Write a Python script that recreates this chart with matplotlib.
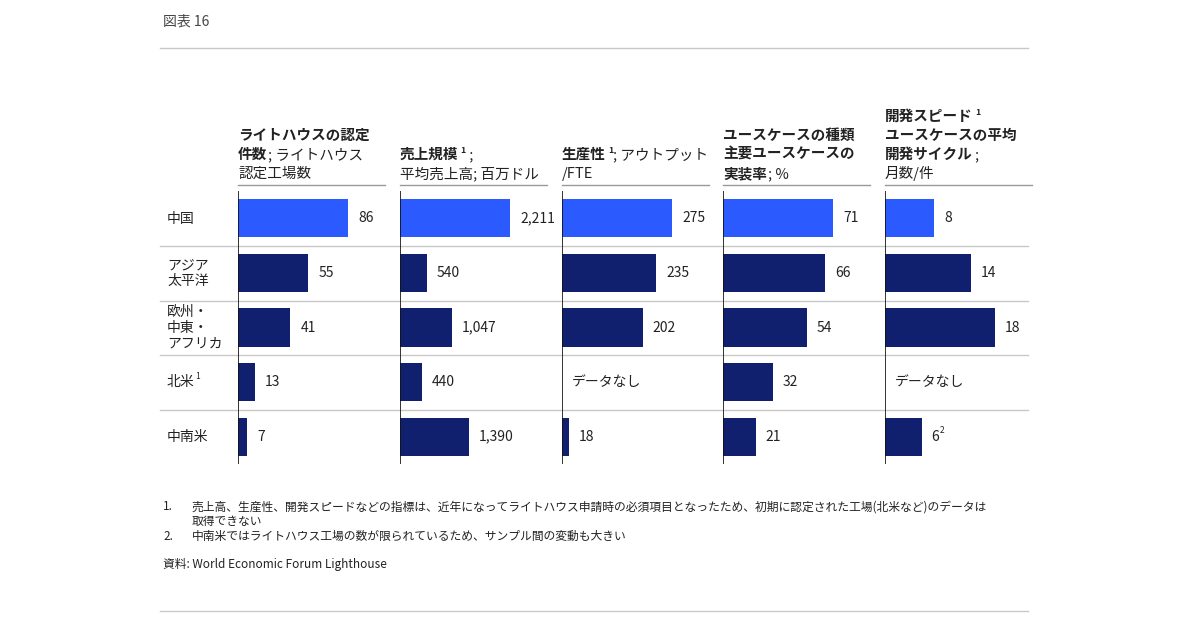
import matplotlib.pyplot as plt

plt.rcParams['font.family'] = ['Noto Sans CJK JP', 'DejaVu Sans']

regions = ["中国", "アジア\n太平洋", "欧州・\n中東・\nアフリカ", "北米", "中南米"]
region_sup = ["", "", "", "1", ""]

panels = [
    {"values": [86, 55, 41, 13, 7], "labels": ["86", "55", "41", "13", "7"], "max": 86,
     "head": [[("ライトハウスの認定", True)], [("件数", True), ("; ライトハウス", False)], [("認定工場数", False)]]},
    {"values": [2211, 540, 1047, 440, 1390], "labels": ["2,211", "540", "1,047", "440", "1,390"], "max": 2211,
     "head": [[("売上規模", True), ("^1", True), (" ;", False)], [("平均売上高; 百万ドル", False)]]},
    {"values": [275, 235, 202, None, 18], "labels": ["275", "235", "202", None, "18"], "max": 275,
     "head": [[("生産性", True), ("^1", True), ("; アウトプット", False)], [("/FTE", False)]]},
    {"values": [71, 66, 54, 32, 21], "labels": ["71", "66", "54", "32", "21"], "max": 71,
     "head": [[("ユースケースの種類", True)], [("主要ユースケースの", True)], [("実装率", True), ("; %", False)]]},
    {"values": [8, 14, 18, None, 6], "labels": ["8", "14", "18", None, "6"], "max": 18,
     "head": [[("開発スピード", True), ("^1", True)], [("ユースケースの平均", True)],
              [("開発サイクル", True), (";", False)], [("月数/件", False)]]},
]
panel_x = [238, 400, 562, 723, 885]

W, H = 1200, 630
fig = plt.figure(figsize=(12, 6.3), dpi=100)
bg = fig.add_axes([0, 0, 1, 1])
bg.set_xlim(0, W)
bg.set_ylim(H, 0)
bg.axis('off')

gray = '#c8c8c8'
txt = '#222222'
navy = '#101f6e'
blue = '#2b5bff'

def pieces(x, y, parts, size):
    # draws text pieces one after another on one line
    r = fig.canvas.get_renderer()
    for s, bold in parts:
        if s.startswith("^"):
            t = bg.text(x + 1, y - size * 0.55, s[1:], fontsize=size * 0.6, color=txt,
                        fontweight='bold' if bold else 'normal', va='baseline')
        else:
            t = bg.text(x, y, s, fontsize=size, color=txt,
                        fontweight='bold' if bold else 'normal', va='baseline')
        bb = t.get_window_extent(renderer=r)
        x += bb.width + 1

bg.text(163, 22, "図表 16", fontsize=10, color='#444444', va='center')
for yy in (48, 611):
    bg.plot([160, 1028], [yy, yy], color=gray, lw=1)

# row separators
for yy in [246, 301, 355, 410]:
    bg.plot([160, 1028], [yy, yy], color=gray, lw=1)

row_c = [218.5 + i * 54.6 for i in range(5)]
for i, name in enumerate(regions):
    t = bg.text(167, row_c[i], name, fontsize=10, color=txt, va='center', linespacing=1.15)
    if region_sup[i]:
        bg.text(195, row_c[i] - 6, region_sup[i], fontsize=6, color=txt, va='center')

for p, x0 in zip(panels, panel_x):
    # header
    lines = p["head"]
    for k, line in enumerate(lines):
        y = 178 - (len(lines) - 1 - k) * 19
        bold_line = all(b for _, b in line)
        pieces(x0, y, line, 10.5)
    bg.plot([x0, x0 + 147], [185, 185], color='#999999', lw=1)

    ax = fig.add_axes([x0 / W, 1 - 464 / H, 147 / W, 273 / H])
    ax.set_xlim(0, p["max"] * 147 / 110)
    ax.set_ylim(5, 0)
    ax.axis('off')
    ax.axvline(0, color='#111111', lw=1.2)
    for i, v in enumerate(p["values"]):
        if v is None:
            ax.text(p["max"] * 10 / 110, i + 0.5, "データなし", fontsize=10, color=txt, va='center')
            continue
        ax.barh(i + 0.5, v, height=0.7, color=blue if i == 0 else navy)
        ax.text(v + p["max"] * 10 / 110, i + 0.5, p["labels"][i], fontsize=10, color=txt, va='center')
    if x0 == 885:
        ax.text(6 + 18 * 18 / 110, 4.5 - 0.12, "2", fontsize=6, color=txt, va='center')

notes = [
    (163, 507, "1."), (192, 507, "売上高、生産性、開発スピードなどの指標は、近年になってライトハウス申請時の必須項目となったため、初期に認定された工場(北米など)のデータは"),
    (192, 521, "取得できない"),
    (163, 536, "2."), (192, 536, "中南米ではライトハウス工場の数が限られているため、サンプル間の変動も大きい"),
    (163, 564, "資料: World Economic Forum Lighthouse"),
]
for x, y, s in notes:
    bg.text(x, y, s, fontsize=8.5, color=txt, va='center')

plt.savefig("out.png", dpi=100)
